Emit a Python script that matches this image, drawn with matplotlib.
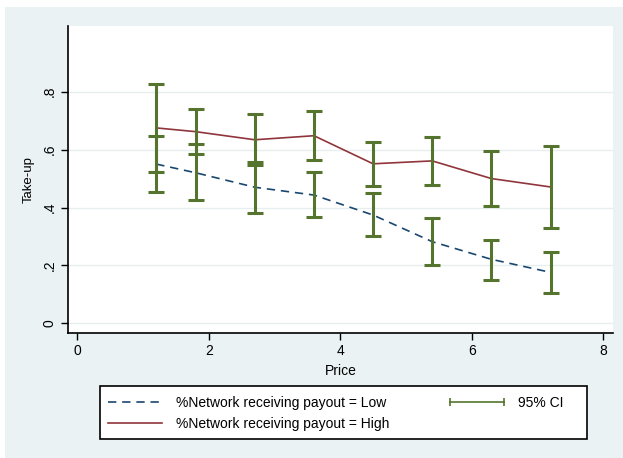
import numpy as np
import matplotlib
matplotlib.use("Agg")
import matplotlib.pyplot as plt
from matplotlib.patches import Rectangle
from matplotlib.lines import Line2D

plt.rcParams['font.family'] = ['Liberation Sans', 'DejaVu Sans']

# -----------------------------
# data
# -----------------------------
price = [1.2, 1.8, 2.7, 3.6, 4.5, 5.4, 6.3, 7.2]

take_low = [0.550, 0.520, 0.470, 0.443, 0.374, 0.282, 0.221, 0.176]
low_ci_lo = [0.455, 0.425, 0.382, 0.367, 0.300, 0.202, 0.150, 0.106]
low_ci_hi = [0.647, 0.619, 0.557, 0.522, 0.449, 0.364, 0.288, 0.246]

take_high = [0.675, 0.662, 0.634, 0.648, 0.551, 0.561, 0.500, 0.471]
high_ci_lo = [0.523, 0.584, 0.546, 0.565, 0.474, 0.479, 0.405, 0.328]
high_ci_hi = [0.827, 0.740, 0.723, 0.732, 0.627, 0.644, 0.594, 0.612]

y_ticks = [0, 0.2, 0.4, 0.6, 0.8]
y_labels = ["0", ".2", ".4", ".6", ".8"]
x_ticks = [0, 2, 4, 6, 8]

# colours (stata s2color)
navy = "#1a476f"
maroon = "#90353b"
green = "#55752f"
bg = "#eaf2f3"

W, H = 623, 458
fig = plt.figure(figsize=(W / 100, H / 100), dpi=100)
fig.patch.set_facecolor("white")
fig.patches.append(Rectangle((5 / W, 0), 1, 1 - 7 / H, transform=fig.transFigure,
                             facecolor=bg, edgecolor="none", zorder=-10))

ax = fig.add_axes([68 / W, 1 - 333 / H, (613 - 68) / W, (333 - 26) / H])
ax.set_facecolor("white")

# lines
ax.plot(price, take_low, color=navy, lw=1.2, dashes=(5, 3.5), zorder=2)
ax.plot(price, take_high, color=maroon, lw=1.2, zorder=2)

# confidence intervals
t_low = np.array(take_low)
t_high = np.array(take_high)
ax.errorbar(price, t_low, yerr=[t_low - np.array(low_ci_lo), np.array(low_ci_hi) - t_low],
            fmt="none", ecolor=green, elinewidth=2.2, capsize=6, capthick=2.2, zorder=3)
ax.errorbar(price, t_high, yerr=[t_high - np.array(high_ci_lo), np.array(high_ci_hi) - t_high],
            fmt="none", ecolor=green, elinewidth=2.2, capsize=6, capthick=2.2, zorder=3)

# axes styling
ax.set_xlim(-0.143, 8.151)
ax.set_ylim(-0.0335, 1.027)
ax.set_xticks(x_ticks)
ax.set_yticks(y_ticks)
ax.set_yticklabels(y_labels, rotation=90, va="center")
ax.tick_params(labelsize=10, length=5, width=1, direction="out", pad=3)
for s in ["top", "right"]:
    ax.spines[s].set_visible(False)
for s in ["left", "bottom"]:
    ax.spines[s].set_linewidth(1.2)
ax.grid(axis="y", color="#e6eeef", lw=1)
ax.set_axisbelow(True)
ax.set_xlabel("Price", fontsize=10, labelpad=4)
ax.set_ylabel("Take-up", fontsize=9.5, labelpad=6)

# legend box drawn by hand, entries placed inside it
fig.patches.append(Rectangle((100 / W, 1 - 439 / H), 487 / W, 53 / H, transform=fig.transFigure,
                             facecolor="white", edgecolor="black", lw=1.2, zorder=1))
handles = [
    Line2D([], [], color=navy, lw=1.2, dashes=(5, 3.5)),
    Line2D([], [], color=maroon, lw=1.2),
    Line2D([], [], color=green, lw=1.2, marker="|", markersize=6, markeredgewidth=1.2),
]
labels = ["%Network receiving payout = Low",
          "%Network receiving payout = High",
          "95% CI"]
leg = fig.legend(handles, labels, ncol=2, loc="center left",
                 bbox_to_anchor=(104 / W, 1 - 413.3 / H),
                 fontsize=10, frameon=False, numpoints=2,
                 handlelength=4.5, handletextpad=0.72, borderpad=0,
                 labelspacing=0.5, columnspacing=4.0, borderaxespad=0)
leg.set_zorder(2)

fig.savefig("out.png", dpi=100)
